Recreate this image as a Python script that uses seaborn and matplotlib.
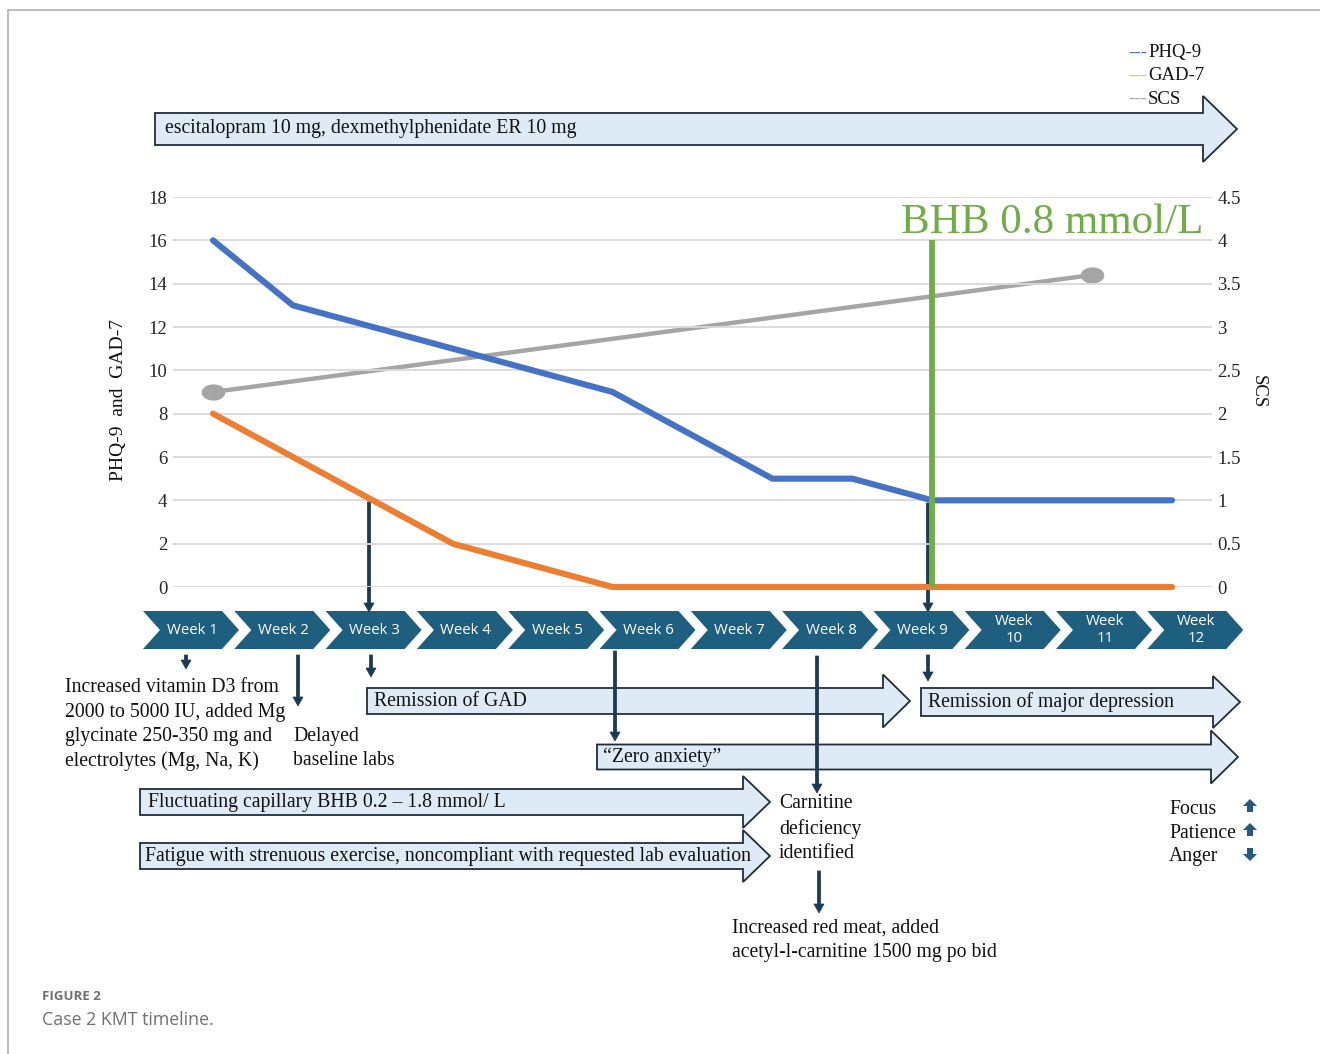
import numpy as np
import pandas as pd
import matplotlib
matplotlib.use("Agg")
import matplotlib.pyplot as plt
from matplotlib.patches import Polygon, FancyArrow
from matplotlib.path import Path
import seaborn as sns

# ---------------- data ----------------
timepoints = list(range(13))
phq9 = [16, 13, 12, 11, 10, 9, 7, 5, 5, 4, 4, 4, 4]
gad7 = [8, 6, 4, 2, 1, 0, 0, 0, 0, 0, 0, 0, 0]
scs = [2.25, np.nan, np.nan, np.nan, np.nan, np.nan, np.nan, np.nan, np.nan, np.nan, np.nan, 3.6, np.nan]
bhb_index = 9
bhb_level = 16
bhb_label = "BHB 0.8 mmol/L"
week_labels = ["Week 1", "Week 2", "Week 3", "Week 4", "Week 5", "Week 6",
               "Week 7", "Week 8", "Week 9", "Week\n10", "Week\n11", "Week\n12"]
left_ticks = [0, 2, 4, 6, 8, 10, 12, 14, 16, 18]
right_ticks = [0, 0.5, 1, 1.5, 2, 2.5, 3, 3.5, 4, 4.5]
right_tick_labels = ["0", "0.5", "1", "1.5", "2", "2.5", "3", "3.5", "4", "4.5"]

C_PHQ = "#4472C4"
C_GAD = "#ED7D31"
C_SCS = "#A5A5A5"
C_BHB = "#70AD47"
C_CHEV = "#1E5F80"
C_NAVY = "#1B3A55"
C_FILL = "#DEEBF7"
SERIF = ["Liberation Serif", "DejaVu Serif"]
SANS = ["Open Sans", "DejaVu Sans"]

sns.set_theme(style="white")
plt.rcParams["font.family"] = SERIF

W, H = 1320, 1054
fig = plt.figure(figsize=(W / 100, H / 100), dpi=100)

# ---------------- main chart ----------------
px_left, px_right, px_top, px_bot = 173, 1212, 197, 587
ax = fig.add_axes([px_left / W, (H - px_bot) / H, (px_right - px_left) / W, (px_bot - px_top) / H])
ax.set_xlim(-0.5, 12.5)
ax.set_ylim(0, 18)
ax.set_yticks(left_ticks)
ax.set_yticklabels([str(t) for t in left_ticks], fontsize=13.5, family=SERIF)
ax.set_xticks([])
ax.yaxis.grid(True, color="#D9D9D9", lw=1.3)
ax.xaxis.grid(False)
ax.tick_params(axis="y", length=0, pad=4)
for s in ax.spines.values():
    s.set_visible(False)
ax.set_ylabel("PHQ-9  and  GAD-7", fontsize=14, family=SERIF, color="#111111")
ax.yaxis.set_label_coords(-0.044, 0.48)

df = pd.DataFrame({"t": timepoints, "phq9": phq9, "gad7": gad7})
sns.lineplot(data=df, x="t", y="gad7", ax=ax, color=C_GAD, lw=4.4,
             solid_capstyle="round", solid_joinstyle="round", clip_on=False, zorder=3)
sns.lineplot(data=df, x="t", y="phq9", ax=ax, color=C_PHQ, lw=4.4,
             solid_capstyle="round", solid_joinstyle="round", clip_on=False, zorder=3)
ax.vlines(bhb_index, 0, bhb_level, color=C_BHB, lw=4.2, zorder=5)
ax.text(bhb_index + 1.5, bhb_level + 0.35, bhb_label, color=C_BHB, fontsize=31,
        family=SERIF, ha="center", va="baseline", zorder=6)
ax.set_xlabel("")

ax2 = ax.twinx()
ax2.set_ylim(0, 4.5)
ax2.set_yticks(right_ticks)
ax2.set_yticklabels(right_tick_labels, fontsize=13.5, family=SERIF)
ax2.tick_params(axis="y", length=0, pad=4)
ax2.grid(False)
for s in ax2.spines.values():
    s.set_visible(False)
t_ = np.linspace(0, 2 * np.pi, 40)
ellipse = Path(np.column_stack([1.45 * np.cos(t_), np.sin(t_)]), closed=True)
df_scs = pd.DataFrame({"t": timepoints, "scs": scs}).dropna()
sns.lineplot(data=df_scs, x="t", y="scs", ax=ax2, color=C_SCS, lw=3.2,
             marker=ellipse, markersize=17, markeredgewidth=0, zorder=2)
ax2.set_ylabel("SCS", fontsize=13.5, family=SERIF, rotation=270, color="#111111")
ax2.yaxis.set_label_coords(1.053, 0.5)
ax2.set_xlabel("")
ax.set_zorder(ax2.get_zorder() + 1)
ax.patch.set_visible(False)

# ---------------- overlay (pixel coordinates) ----------------
ov = fig.add_axes([0, 0, 1, 1])
ov.set_xlim(0, W)
ov.set_ylim(H, 0)
ov.axis("off")

# frame
ov.plot([8, 8], [10, H], color="#B5B5B5", lw=1.3)
ov.plot([8, W], [10, 10], color="#B5B5B5", lw=1.3)


def block_arrow(x0, xb, tip, yc, bh, hh, text=None, tx=None, fs=14.2):
    pts = [(x0, yc - bh / 2), (xb, yc - bh / 2), (xb, yc - hh / 2), (tip, yc),
           (xb, yc + hh / 2), (xb, yc + bh / 2), (x0, yc + bh / 2)]
    ov.add_patch(Polygon(pts, closed=True, fc=C_FILL, ec="#1E2E3A", lw=1.3, zorder=2))
    if text:
        ov.text(tx if tx else x0 + 8, yc, text, fontsize=fs, family=SERIF,
                va="center", ha="left", color="#111111", zorder=3)


block_arrow(155, 1203, 1237, 129, 32, 66, "escitalopram 10 mg, dexmethylphenidate ER 10 mg", 165)
block_arrow(367, 883, 910, 701, 26, 53, "Remission of GAD", 374)
block_arrow(921, 1213, 1240, 702, 28, 52, "Remission of major depression", 928)
block_arrow(597, 1211, 1238, 757, 25, 53, "\u201cZero anxiety\u201d", 603)
block_arrow(140, 743, 770, 802, 26, 52, "Fluctuating capillary BHB 0.2 \u2013 1.8 mmol/ L", 148)
block_arrow(140, 743, 770, 856, 26, 52,
            "Fatigue with strenuous exercise, noncompliant with requested lab evaluation", 145)

# chevrons
step, cw, dep = 91.3, 79, 17
ctop, cbot = 611, 649
cmid = (ctop + cbot) / 2
for i, lab in enumerate(week_labels):
    L = 143 + i * step
    pts = [(L, ctop), (L + cw, ctop), (L + cw + dep, cmid), (L + cw, cbot), (L, cbot), (L + dep, cmid)]
    ov.add_patch(Polygon(pts, closed=True, fc=C_CHEV, ec="none", zorder=2))
    ov.text(L + (cw + dep) / 2 + 1, cmid, lab, color="white", fontsize=10.8, family=SANS,
            ha="center", va="center", linespacing=1.15, zorder=3)

# vertical arrows
varrows = [(369, 502, 612), (928, 503, 612), (186, 655, 669), (298, 655, 706),
           (371, 655, 677), (615, 651, 741), (817, 656, 793), (928, 655, 681), (819, 871, 913)]
for x, y0, y1 in varrows:
    ov.add_patch(FancyArrow(x, y0, 0, y1 - y0, width=3.2, head_width=10, head_length=9,
                            length_includes_head=True, fc=C_NAVY, ec=C_NAVY, lw=0.5, zorder=6))

# free text
def lines(x, y0, dy, txts, fs=14.2):
    for k, t in enumerate(txts):
        ov.text(x, y0 + k * dy, t, fontsize=fs, family=SERIF, va="center", ha="left", color="#111111")


lines(65, 688, 24.5, ["Increased vitamin D3 from", "2000 to 5000 IU, added Mg",
                      "glycinate 250-350 mg and", "electrolytes (Mg, Na, K)"])
lines(293, 736, 24.5, ["Delayed", "baseline labs"])
lines(779, 804, 25, ["Carnitine", "deficiency", "identified"])
lines(732, 928, 25, ["Increased red meat, added", "acetyl-l-carnitine 1500 mg po bid"])
lines(1169, 810, 23.5, ["Focus", "Patience", "Anger"])

# small up/down arrows
def small_arrow(xc, yc, up=True):
    s = -1 if up else 1
    pts = [(xc - 7, yc), (xc, yc + s * 7), (xc + 7, yc), (xc + 3, yc), (xc + 3, yc - s * 6),
           (xc - 3, yc - s * 6), (xc - 3, yc)]
    ov.add_patch(Polygon(pts, closed=True, fc="#245A82", ec="none", zorder=3))


small_arrow(1250, 806, True)
small_arrow(1250, 830, True)
small_arrow(1250, 854, False)

# legend
for k, (lab, col) in enumerate([("PHQ-9", C_PHQ), ("GAD-7", "#FFC000"), ("SCS", C_SCS)]):
    y = 53 + k * 23
    ov.text(1128, y, "---", color=col, fontsize=13.5, family=SERIF, va="center", ha="left")
    ov.text(1148, y, lab, color="#111111", fontsize=13.5, family=SERIF, va="center", ha="left")

# caption
ov.text(42, 997, "FIGURE 2", fontsize=9.5, family=SANS, fontweight="bold", color="#707070",
        va="center", ha="left")
ov.text(42, 1020, "Case 2 KMT timeline.", fontsize=12.8, family=SANS, color="#707070",
        va="center", ha="left")

fig.savefig("out.png", dpi=100)
